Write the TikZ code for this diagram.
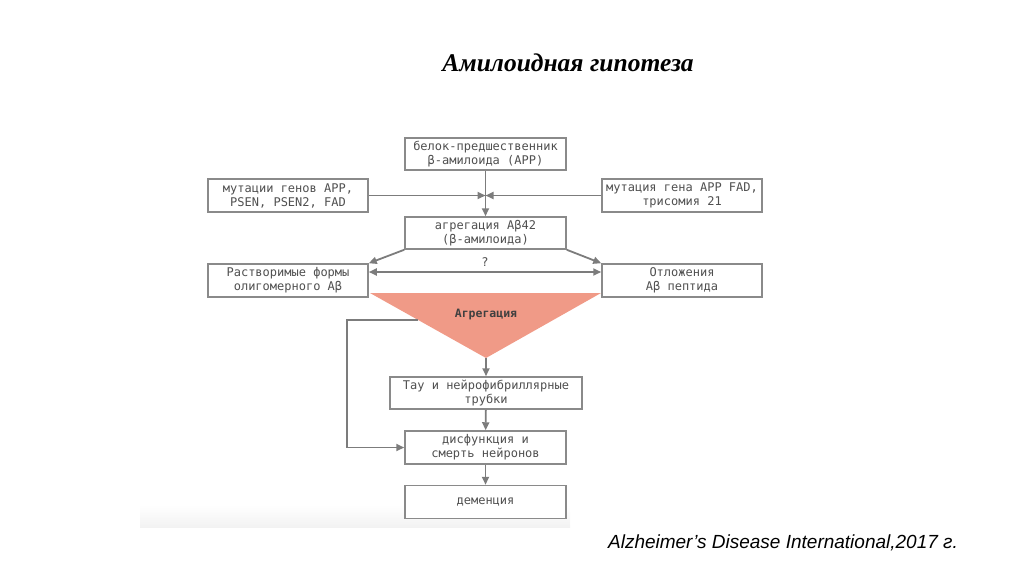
\documentclass[tikz,border=0pt]{standalone}
\usepackage{fontspec}
\setmainfont{Liberation Serif}
\setsansfont{Liberation Sans}
\setmonofont{DejaVu Sans Mono}
\usepackage{tikz}
\usetikzlibrary{arrows.meta}
\definecolor{boxgray}{HTML}{8A8A8A}
\definecolor{textgray}{HTML}{505050}
\definecolor{salmon}{HTML}{F09A87}

\begin{document}
\begin{tikzpicture}[x=1pt,y=-1pt,
	box/.style={draw=boxgray,line width=1.5pt,fill=white,inner sep=0pt,
		text=textgray,font=\ttfamily\fontsize{12}{14}\selectfont,align=center},
	link/.style={draw=boxgray!90!black,line width=1.8pt,-{Triangle[length=8pt,width=7pt]}}]
			\useasboundingbox (0,0) rectangle (1024,574);
			\shade [top color=white,bottom color=black!5] (140,505) rectangle (570,527);
			\node [font=\bfseries\itshape\fontsize{25.5}{28}\selectfont] (title) at (568,63) {Амилоидная гипотеза};
			\node [font=\sffamily\itshape\fontsize{19}{22}\selectfont] (cite) at (783,543) {Alzheimer’s Disease International,2017 г.};
			% boxes
			\node [box,minimum width=161pt,minimum height=32pt] (app) at (485.5,154) {белок-предшественник\\β-амилоида (APP)};
			\node [box,minimum width=160pt,minimum height=33pt] (mutl) at (288,195.5) {мутации генов APP,\\PSEN, PSEN2, FAD};
			\node [box,minimum width=160pt,minimum height=33pt] (mutr) at (682,195.5) {мутация гена APP FAD,\\трисомия 21};
			\node [box,minimum width=161pt,minimum height=32pt] (agg) at (485.5,233) {агрегация Aβ42\\(β-амилоида)};
			\node [box,minimum width=160pt,minimum height=33pt] (sol) at (288,280.5) {Растворимые формы\\олигомерного Aβ};
			\node [box,minimum width=160pt,minimum height=33pt] (dep) at (682,280.5) {Отложения\\Aβ пептида};
			\node [box,minimum width=192pt,minimum height=32pt] (tau) at (486,393) {Тау и нейрофибриллярные\\трубки};
			\node [box,minimum width=161pt,minimum height=33pt] (dys) at (485.5,447.5) {дисфункция и\\смерть нейронов};
			\node [box,minimum width=161pt,minimum height=33pt] (dem) at (485.5,502) {деменция};
			% triangle
			\coordinate (tl) at (370,293);
			\coordinate (tr) at (601,293);
			\coordinate (apex) at (486,358);
			\fill [salmon] (tl) -- (tr) -- (apex) -- cycle;
			\node [font=\ttfamily\bfseries\fontsize{11.5}{14}\selectfont,text=black!75] (aggr) at (486,314) {Агрегация};
			% connectors
			\coordinate (join) at (app.south |- mutl.east);
			\draw [link] (app) -- (agg);
			\draw [link] (mutl) -- (join);
			\draw [link] (mutr) -- (join);
			\draw [link] (agg.south west) -- (sol.north east);
			\draw [link] (agg.south east) -- (dep.north west);
			\draw [link,{Triangle[length=8pt,width=7pt]}-{Triangle[length=8pt,width=7pt]}] (sol.east |- 0,272) -- (dep.west |- 0,272)
				node [midway,above=1pt,text=textgray,font=\ttfamily\fontsize{12}{14}\selectfont] {?};
			\coordinate (side) at (418,320);
			\draw [link] (side) -- (347,320) |- (dys.west);
			\draw [link] (apex) -- (tau);
			\draw [link] (tau) -- (dys);
			\draw [link] (dys) -- (dem);
\end{tikzpicture}
\end{document}
